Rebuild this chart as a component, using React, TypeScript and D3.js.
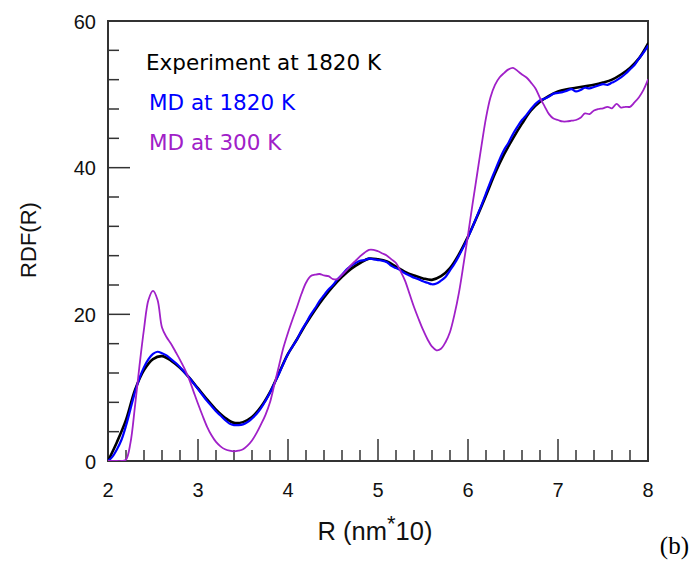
import React from "react";
import * as d3 from "d3";

// ---- data ----
const rExp = d3.range(0, 61).map((i) => 2 + i * 0.1);
const rdfExp = [
  0, 2.6, 5.6, 9.7, 12.4, 13.9, 14.3, 13.7, 12.7, 11.4,
  9.9, 8.4, 7.0, 5.9, 5.2, 5.3, 6.0, 7.4, 9.4, 12.0,
  14.6, 16.6, 18.7, 20.6, 22.3, 23.8, 25.1, 26.2, 27.0, 27.6,
  27.5, 27.2, 26.5, 25.8, 25.3, 24.9, 24.7, 25.2, 26.3, 28.2,
  30.6, 33.3, 36.2, 39.2, 41.8, 44.0, 46.0, 47.8, 49.0, 49.8,
  50.4, 50.7, 50.9, 51.1, 51.3, 51.6, 52.0, 52.7, 53.6, 54.9,
  56.9,
];

const rMD = d3.range(0, 121).map((i) => 2 + i * 0.05);
const rdfMD1820 = [
  0.0, 0.6, 1.6, 2.9, 4.8, 7.1, 9.4, 11.3, 12.8, 13.9,
  14.6, 14.9, 14.7, 14.4, 13.9, 13.4, 12.8, 12.1, 11.4, 10.6,
  9.8, 9.0, 8.2, 7.5, 6.8, 6.2, 5.6, 5.1, 4.9, 4.9,
  5.0, 5.3, 5.8, 6.4, 7.2, 8.2, 9.3, 10.6, 11.9, 13.3,
  14.6, 15.6, 16.6, 17.8, 18.8, 19.9, 20.8, 21.8, 22.6, 23.4,
  24.0, 24.8, 25.4, 26.1, 26.6, 27.0, 27.3, 27.4, 27.6, 27.5,
  27.4, 27.3, 27.1, 26.6, 26.3, 26.0, 25.6, 25.3, 25.0, 24.8,
  24.5, 24.3, 24.1, 24.2, 24.6, 25.1, 26.0, 26.9, 28.0, 29.2,
  30.5, 31.9, 33.4, 34.9, 36.5, 38.1, 39.6, 41.1, 42.4, 43.4,
  44.6, 45.6, 46.5, 47.2, 48.0, 48.7, 49.2, 49.4, 49.7, 50.1,
  50.2, 50.3, 50.5, 50.7, 50.4, 50.6, 50.9, 50.8, 51.0, 51.2,
  51.4, 51.3, 51.6, 51.9, 52.3, 52.8, 53.4, 54.0, 54.9, 55.7,
  56.6,
];
const rdfMD300 = [
  0, 0, 0, 0, 0.2, 2.5, 7.5, 13.0, 18.0, 22.0,
  23.2, 22.0, 18.2, 16.9, 16.0, 14.9, 13.8, 12.6, 11.2, 9.5,
  7.8, 6.2, 4.7, 3.5, 2.6, 2.0, 1.6, 1.4, 1.3, 1.4,
  1.6, 2.1, 2.8, 3.8, 5.0, 6.3, 8.0, 10.5, 13.0, 15.5,
  17.5, 19.3, 21.0, 22.8, 24.3, 25.2, 25.4, 25.5, 25.3, 25.2,
  24.8, 24.8, 25.4, 26.0, 26.7, 27.3, 27.9, 28.4, 28.8, 28.8,
  28.6, 28.3, 28.0, 27.5, 27.0, 25.9, 24.6, 22.8, 21.0, 19.4,
  17.9, 16.6, 15.6, 15.1, 15.3, 16.2, 17.6, 20.0, 23.0, 26.8,
  30.8, 35.0, 39.0, 43.0, 46.8, 49.6, 51.3, 52.3, 52.9, 53.4,
  53.6, 53.2, 52.7, 52.3, 51.6, 50.8, 49.5, 48.4, 47.3, 46.7,
  46.5, 46.3, 46.3, 46.4, 46.5, 46.8, 47.4, 47.3, 47.8, 48.0,
  48.1, 48.3, 48.1, 48.7, 48.2, 48.3, 48.3, 48.9, 49.6, 50.6,
  52.0,
];

const xMajorTicks = [2, 3, 4, 5, 6, 7, 8];
const yMajorTicks = [0, 20, 40, 60];
const legendLabels = ["Experiment at 1820 K", "MD at 1820 K", "MD at 300 K"];
const seriesColors = ["#000000", "#0000ff", "#a020c8"];

export default function App() {
  const W = 692, H = 568;
  const left = 108, right = 648, top = 21, bottom = 461;
  const x = d3.scaleLinear().domain([2, 8]).range([left, right]);
  const y = d3.scaleLinear().domain([0, 60]).range([bottom, top]);

  const mk = (xs: number[], ys: number[]) =>
    d3
      .line<number>()
      .x((_, i) => x(xs[i]))
      .y((d) => y(d))
      .curve(d3.curveCatmullRom.alpha(0.5))(ys) || "";

  const xMinor = d3.range(0, 31).map((i) => 2 + i * 0.2).filter((v) => Math.abs(v - Math.round(v)) > 1e-6);
  const yMinor = d3.range(0, 16).map((i) => i * 4).filter((v) => v % 20 !== 0);
  const axisColor = "#333";
  const numFont = "'Liberation Sans', Arial, sans-serif";

  return (
    <svg width={W} height={H} style={{ position: "absolute", left: 0, top: 0, background: "#fff" }}>
      <defs>
        <clipPath id="plot">
          <rect x={left} y={top} width={right - left} height={bottom - top} />
        </clipPath>
      </defs>
      {/* frame */}
      <rect x={left} y={top} width={right - left} height={bottom - top} fill="none" stroke={axisColor} strokeWidth={2} />
      {/* x ticks */}
      {xMajorTicks.map((t) => (
        <g key={"xm" + t}>
          <line x1={x(t)} x2={x(t)} y1={bottom} y2={bottom - 22} stroke={axisColor} strokeWidth={1.5} />
          <text x={x(t)} y={497} textAnchor="middle" fontFamily={numFont} fontSize={20} fill="#111">
            {t}
          </text>
        </g>
      ))}
      {xMinor.map((t) => (
        <line key={"xn" + t} x1={x(t)} x2={x(t)} y1={bottom} y2={bottom - 11} stroke={axisColor} strokeWidth={1.5} />
      ))}
      {/* y ticks */}
      {yMajorTicks.map((t) => (
        <g key={"ym" + t}>
          <line x1={left} x2={left + 22} y1={y(t)} y2={y(t)} stroke={axisColor} strokeWidth={1.5} />
          <text x={96} y={y(t) + 7.5} textAnchor="end" fontFamily={numFont} fontSize={20} fill="#111">
            {t}
          </text>
        </g>
      ))}
      {yMinor.map((t) => (
        <line key={"yn" + t} x1={left} x2={left + 11} y1={y(t)} y2={y(t)} stroke={axisColor} strokeWidth={1.5} />
      ))}
      {/* series */}
      <g clipPath="url(#plot)" fill="none" strokeLinejoin="round" strokeLinecap="round">
        <path d={mk(rExp, rdfExp)} stroke={seriesColors[0]} strokeWidth={2.6} />
        <path d={mk(rMD, rdfMD1820)} stroke={seriesColors[1]} strokeWidth={2.2} />
        <path d={mk(rMD, rdfMD300)} stroke={seriesColors[2]} strokeWidth={1.8} />
      </g>
      {/* legend */}
      {legendLabels.map((l, i) => (
        <text
          key={l}
          x={i === 0 ? 146 : 149}
          y={70 + i * 40}
          fontFamily="'DejaVu Sans', Verdana, sans-serif"
          fontSize={21.5}
          fill={seriesColors[i]}
        >
          {l}
        </text>
      ))}
      {/* axis titles */}
      <text x={375} y={540} textAnchor="middle" fontFamily={numFont} fontSize={25.5} fill="#111">
        R (nm<tspan dy={-9} fontSize={22}>*</tspan>
        <tspan dy={9}>10)</tspan>
      </text>
      <text
        transform="translate(36,240) rotate(-90)"
        textAnchor="middle"
        fontFamily={numFont}
        fontSize={22}
        fill="#111"
      >
        RDF(R)
      </text>
      <text x={689} y={554} textAnchor="end" fontFamily="'Liberation Serif', 'Times New Roman', serif" fontSize={25} fill="#000">
        (b)
      </text>
    </svg>
  );
}
